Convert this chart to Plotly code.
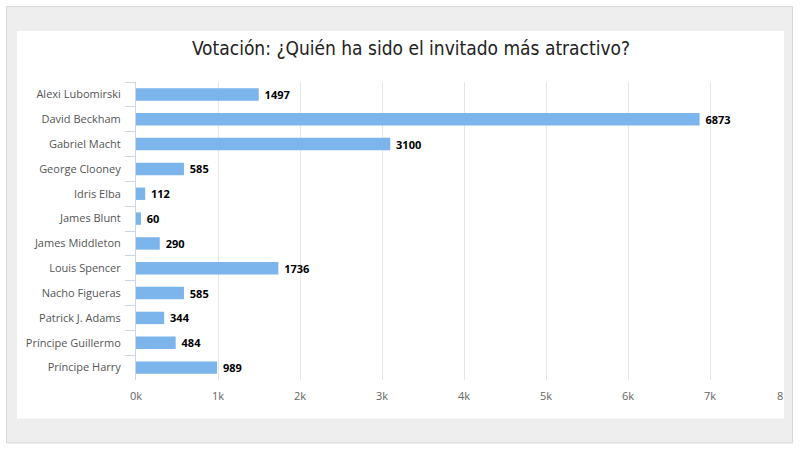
import plotly.graph_objects as go

categories = ["Alexi Lubomirski", "David Beckham", "Gabriel Macht", "George Clooney",
              "Idris Elba", "James Blunt", "James Middleton", "Louis Spencer",
              "Nacho Figueras", "Patrick J. Adams", "Príncipe Guillermo", "Príncipe Harry"]
votes = [1497, 6873, 3100, 585, 112, 60, 290, 1736, 585, 344, 484, 989]
tick_values = [0, 1000, 2000, 3000, 4000, 5000, 6000, 7000, 8000]
tick_labels = ["0k", "1k", "2k", "3k", "4k", "5k", "6k", "7k", ""]
last_tick_visible = "8"   # the reference shows the last label clipped to "8"

W, H = 800, 450
L, R, T, B = 136, 8, 82, 70
PW, PH = W - L - R, H - T - B
TICKFONT = dict(family="Open Sans, DejaVu Sans, sans-serif", size=11, color="#666666")

fig = go.Figure(go.Bar(
    x=votes, y=categories, orientation="h",
    marker=dict(color="#7cb5ec", line=dict(width=0)),
    text=["\u00a0" + str(v) for v in votes], textposition="outside", constraintext="none",
    textfont=dict(family="Open Sans, DejaVu Sans, sans-serif", size=11, color="#000000", weight="bold"),
    cliponaxis=False, hoverinfo="skip",
))

def px(x0, y0, x1, y1):
    # convert figure pixel box into plot-area (paper) fractions
    return dict(x0=(x0 - L) / PW, x1=(x1 - L) / PW,
                y0=1 - (y1 - T) / PH, y1=1 - (y0 - T) / PH)

shapes = [
    dict(type="rect", xref="paper", yref="paper", layer="below",
         fillcolor="#eeeeee", line=dict(color="#d8d8d8", width=1), **px(6.5, 6.5, 792.5, 443)),
    dict(type="rect", xref="paper", yref="paper", layer="below",
         fillcolor="#ffffff", line=dict(width=0), **px(17, 31, 784, 418.5)),
    # right strip of grey panel drawn above, clipping the plot at the white panel edge
    dict(type="rect", xref="paper", yref="paper", layer="above",
         fillcolor="#eeeeee", line=dict(width=0), **px(784, 31, 792, 418.5)),
    dict(type="line", xref="paper", yref="paper", layer="above",
         line=dict(color="#d8d8d8", width=1), **px(792.5, 6.5, 792.5, 443)),
    dict(type="rect", xref="paper", yref="paper", layer="above",
         fillcolor="#ffffff", line=dict(width=0), **px(793, 0, 801, 450)),
]

annotations = [
    dict(text=last_tick_visible, xref="paper", yref="paper",
         x=(785 - L) / PW, xanchor="right", y=1 - (395 - T) / PH, yanchor="middle",
         showarrow=False, font=TICKFONT),
]

fig.update_layout(
    width=W, height=H,
    margin=dict(l=L, r=R, t=T, b=B, pad=0, autoexpand=False),
    paper_bgcolor="#ffffff", plot_bgcolor="rgba(0,0,0,0)",
    showlegend=False,
    bargap=0.5,
    title=dict(text="Votación: ¿Quién ha sido el invitado más atractivo?",
               x=411 / W, xanchor="center", xref="container",
               y=1 - 48 / H, yanchor="middle", yref="container",
               font=dict(family="Liberation Sans Narrow, DejaVu Sans Condensed, Roboto, sans-serif",
                         size=19, color="#222222")),
    shapes=shapes,
    annotations=annotations,
    xaxis=dict(range=[0, 8000], tickvals=tick_values, ticktext=tick_labels,
               showgrid=True, gridcolor="#e6e6e6", gridwidth=1, zeroline=False,
               showline=False, ticks="", ticklabelstandoff=8, automargin=False,
               tickfont=TICKFONT, fixedrange=True),
    yaxis=dict(autorange="reversed", categoryorder="array", categoryarray=categories,
               showgrid=False, zeroline=False, automargin=False,
               showline=True, linecolor="#ccd6eb", linewidth=1,
               ticks="outside", ticklen=10, tickcolor="#ccd6eb", tickson="boundaries",
               ticklabelstandoff=12,
               tickfont=dict(family="Open Sans, DejaVu Sans, sans-serif", size=11, color="#555555"),
               fixedrange=True),
)

fig.write_html("out.html", config={"displayModeBar": False},
               post_script="document.body.style.margin='0';document.body.style.overflow='hidden';")
